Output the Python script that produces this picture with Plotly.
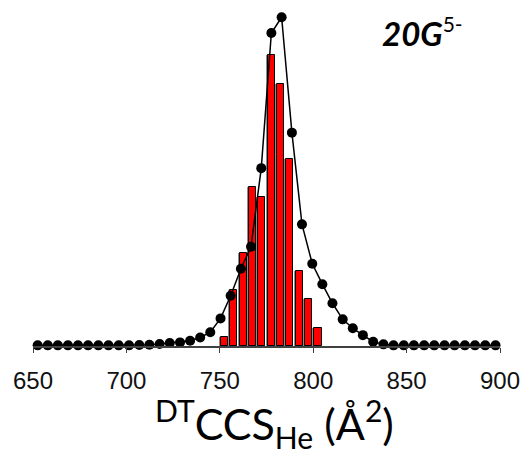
import plotly.graph_objects as go

# Fitted distribution (dots + line)
fit_ccs = [652.5, 657.9, 663.3, 668.7, 674.1, 679.5, 685.0, 690.4, 695.9, 701.4,
           706.9, 712.3, 717.8, 723.2, 728.7, 734.1, 739.5, 744.9, 750.4, 755.8,
           761.3, 766.7, 772.2, 777.6, 783.1, 788.6, 794.0, 799.5, 804.9, 810.3,
           815.8, 821.2, 826.6, 832.1, 837.6, 843.0, 848.5, 853.9, 859.4, 864.8,
           870.3, 875.7, 881.2, 886.6, 892.1, 897.6]
fit_int = [0.2, 0.2, 0.2, 0.2, 0.2, 0.2, 0.2, 0.2, 0.2, 0.2,
           0.3, 0.4, 0.6, 0.9, 1.1, 1.6, 2.6, 4.2, 8.4, 15.3,
           23.5, 30.2, 54.1, 95.2, 100.0, 64.9, 37.0, 25.0, 18.8, 13.0,
           8.1, 5.4, 3.3, 1.3, 0.5, 0.2, 0.2, 0.2, 0.2, 0.2,
           0.2, 0.2, 0.2, 0.2, 0.2, 0.2]

# Histogram bars
bar_ccs = [752.5, 757.5, 762.5, 767.5, 772.5, 777.5, 782.5, 787.5, 792.5, 797.5, 802.5]
bar_int = [2.6, 16.9, 28.4, 48.3, 45.4, 88.4, 79.8, 57.0, 22.7, 14.2, 5.5]

tick_vals = [650, 700, 750, 800, 850, 900]
tick_text = ["650", "700", "750", "800", "850", "900"]

fig = go.Figure()

# grey shadow behind bars
fig.add_trace(go.Bar(x=bar_ccs, y=bar_int, width=[4.9] * len(bar_ccs),
                     offset=-3.0, marker=dict(color="#8c8c8c", line=dict(width=0)),
                     showlegend=False, hoverinfo="skip"))
fig.add_trace(go.Bar(x=bar_ccs, y=bar_int, width=[3.9] * len(bar_ccs),
                     offset=-1.95, marker=dict(color="#ff0000", line=dict(color="black", width=1)),
                     showlegend=False))
fig.add_trace(go.Scatter(x=fit_ccs, y=fit_int, mode="lines+markers",
                         line=dict(color="black", width=1.5),
                         marker=dict(color="black", size=10),
                         cliponaxis=False, showlegend=False))

fig.update_layout(
    width=530, height=453,
    margin=dict(l=33, r=27, t=10, b=107),
    plot_bgcolor="white", paper_bgcolor="white",
    barmode="overlay", bargap=0,
    xaxis=dict(range=[650, 900], tickvals=tick_vals, ticktext=tick_text,
               showline=True, linecolor="#404040", linewidth=1.5,
               ticks="outside", ticklen=5, tickcolor="#404040", tickwidth=1,
               ticklabelstandoff=7,
               showgrid=False, zeroline=False,
               tickfont=dict(family="Liberation Sans, Arial", size=24, color="#111111")),
    yaxis=dict(range=[0, 102.2], visible=False, showgrid=False, zeroline=False),
    annotations=[
        dict(text="<b><i>20G</i></b><sup><span style='font-size:21px'>5-</span></sup>",
             xref="x", yref="y",
             x=835.8, y=95.5, xanchor="left", yanchor="middle", showarrow=False,
             font=dict(family="Lato", size=33, color="black")),
        dict(text="<sup>DT</sup>CCS<sub>He</sub> (Å<sup>2</sup>)", xref="x", yref="paper",
             x=779.4, y=-0.232, xanchor="center", yanchor="middle", showarrow=False,
             font=dict(family="Lato", size=43, color="black")),
    ],
)

fig.write_html("out.html", config={"displayModeBar": False},
               post_script="document.body.style.margin='0';document.body.style.overflow='hidden';")
